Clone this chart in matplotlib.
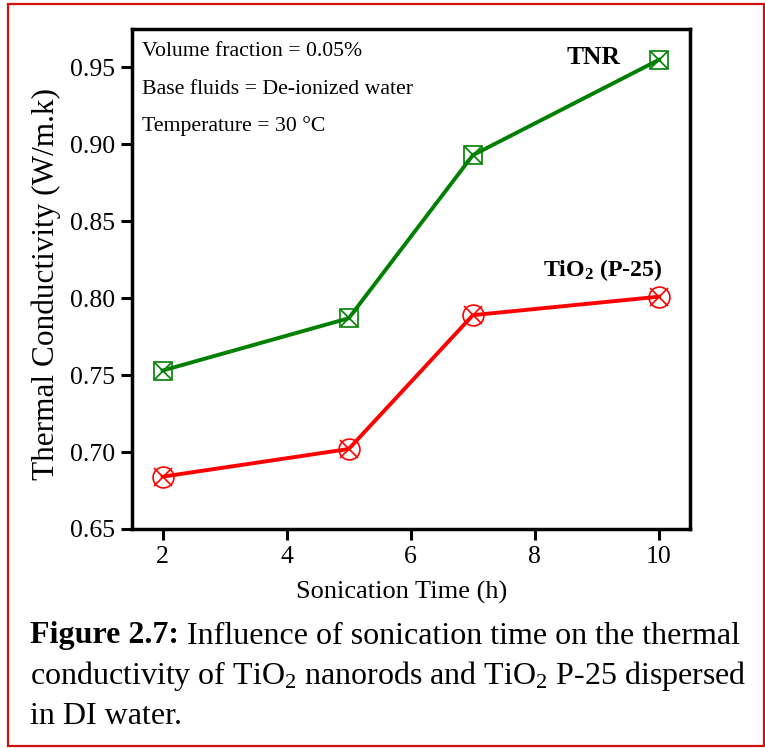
import numpy as np
import matplotlib
matplotlib.use('Agg')
import matplotlib.pyplot as plt
from matplotlib.patches import Rectangle

plt.rcParams['font.family'] = 'Liberation Serif'
plt.rcParams['mathtext.fontset'] = 'custom'
plt.rcParams['mathtext.rm'] = 'Liberation Serif'
plt.rcParams['mathtext.bf'] = 'Liberation Serif:bold'
plt.rcParams['mathtext.default'] = 'regular'

## DATA
time_h = [2, 5, 7, 10]
k_tnr = [0.753, 0.787, 0.893, 0.955]
k_p25 = [0.684, 0.702, 0.789, 0.801]
x_ticks = [2, 4, 6, 8, 10]
y_ticks = [0.65, 0.70, 0.75, 0.80, 0.85, 0.90, 0.95]
notes = ['Volume fraction = 0.05%',
         'Base fluids = De-ionized water',
         'Temperature = 30 \u00b0C']

green = '#008000'
red = '#ff0000'

fig = plt.figure(figsize=(7.65, 7.48), dpi=100)
ax = fig.add_axes([0.172, 0.2928, 0.73, 0.6684])

# TNR curve: open square with x
ax.plot(time_h, k_tnr, color=green, lw=2.8, zorder=2)
ax.plot(time_h, k_tnr, ls='none', marker='s', ms=13, mfc='none', mec=green, mew=1.2, zorder=3)
ax.plot(time_h, k_tnr, ls='none', marker='x', ms=12, mec=green, mew=1.2, zorder=3)

# P-25 curve: open circle with x
ax.plot(time_h, k_p25, color=red, lw=2.8, zorder=2)
ax.plot(time_h, k_p25, ls='none', marker='o', ms=15, mfc='none', mec=red, mew=1.2, zorder=3)
ax.plot(time_h, k_p25, ls='none', marker='x', ms=13, mec=red, mew=1.2, zorder=3)

ax.set_xlim(1.5, 10.5)
ax.set_ylim(0.65, 0.975)
ax.set_xticks(x_ticks)
ax.set_yticks(y_ticks)
ax.set_yticklabels(['%.2f' % v for v in y_ticks])
ax.tick_params(direction='out', length=8, width=2.2, labelsize=18.5, pad=4)
for s in ax.spines.values():
    s.set_linewidth(2.5)

ax.set_xlabel('Sonication Time (h)', fontsize=19)
ax.set_ylabel('Thermal Conductivity (W/m.k)', fontsize=22.5)
ax.xaxis.set_label_coords(0.484, -0.104)
ax.yaxis.set_label_coords(-0.127, 0.49)

# notes
for i, t in enumerate(notes):
    ax.text(0.018, 0.955 - i * 0.075, t, transform=ax.transAxes, fontsize=15.7,
            va='center', ha='left')

ax.text(8.95, 0.9567, 'TNR', fontsize=18.4, fontweight='bold', ha='center', va='center')
ax.text(9.1, 0.8185, r'TiO$_2$ (P-25)', fontsize=17.2, fontweight='bold', ha='center', va='center')

# caption
t1 = fig.text(30 / 765, 1 - 636 / 748, 'Figure 2.7:', fontsize=23, fontweight='bold',
              ha='left', va='center')
fig.text(30 / 765, 1 - 676 / 748,
         r'conductivity of TiO$_2$ nanorods and TiO$_2$ P-25 dispersed',
         fontsize=23, ha='left', va='center')
fig.text(30 / 765, 1 - 716 / 748, 'in DI water.', fontsize=23, ha='left', va='center')
ax.annotate(' Influence of sonication time on the thermal', xy=(1, 0.5), xycoords=t1,
            fontsize=23, ha='left', va='center', annotation_clip=False)

# red border round the whole figure
fig.patches.append(Rectangle((8 / 765, 2 / 748), 756 / 765, 742 / 748,
                             transform=fig.transFigure, fill=False,
                             edgecolor='#d01010', lw=1.6))

fig.savefig('out.png', dpi=100)
